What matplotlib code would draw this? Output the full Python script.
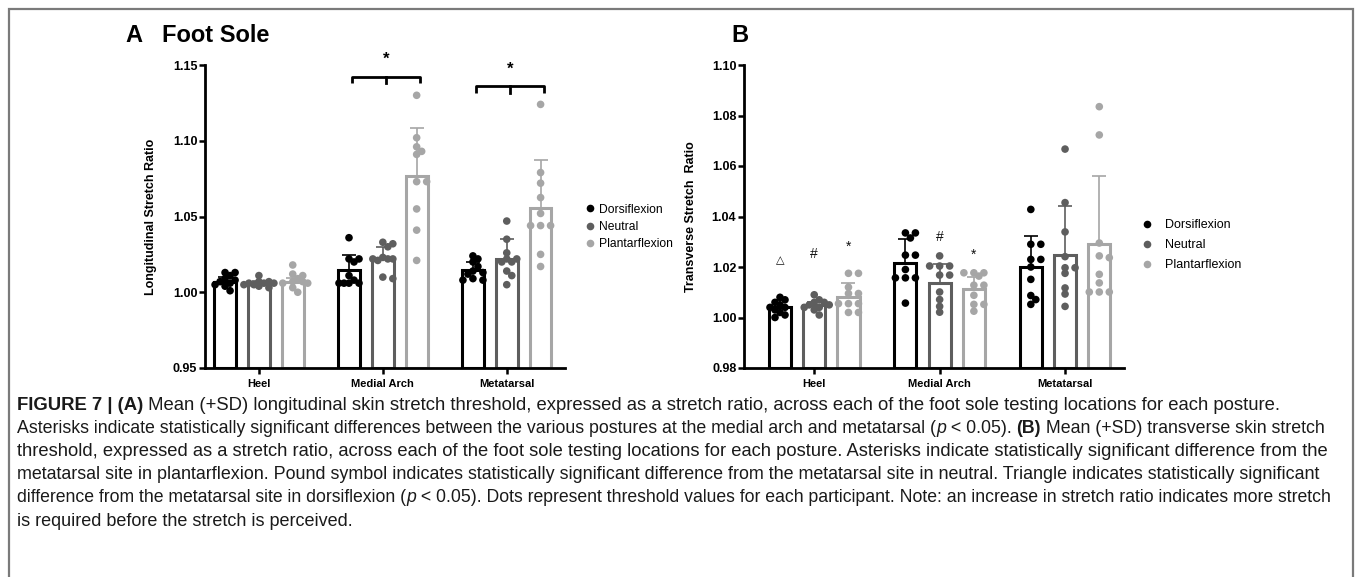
import numpy as np
import matplotlib.pyplot as plt
from matplotlib.lines import Line2D

plt.rcParams['font.family'] = ['Liberation Sans', 'DejaVu Sans']

W, H = 1355, 577

sites = ['Heel', 'Medial Arch', 'Metatarsal']
postures = ['Dorsiflexion', 'Neutral', 'Plantarflexion']
colors = ['#000000', '#5e5e5e', '#a6a6a6']

# Panel A: longitudinal stretch ratio (rows = postures, cols = sites)
long_mean = [[1.0066, 1.0147, 1.0147],
             [1.0060, 1.0224, 1.0222],
             [1.0068, 1.0770, 1.0553]]
long_sd = [[0.0034, 0.0101, 0.0053],
           [0.0015, 0.0076, 0.0128],
           [0.0029, 0.0316, 0.0317]]
long_heel = [[1.013, 1.013, 1.011, 1.009, 1.008, 1.007, 1.006, 1.005, 1.004, 1.001],
             [1.011, 1.007, 1.007, 1.006, 1.006, 1.006, 1.005, 1.005, 1.004, 1.003],
             [1.018, 1.012, 1.011, 1.009, 1.007, 1.007, 1.006, 1.006, 1.003, 1.000]]
long_arch = [[1.036, 1.022, 1.022, 1.020, 1.011, 1.008, 1.006, 1.006, 1.006, 1.006],
             [1.033, 1.032, 1.030, 1.023, 1.022, 1.022, 1.022, 1.021, 1.010, 1.009],
             [1.130, 1.102, 1.096, 1.093, 1.091, 1.073, 1.073, 1.055, 1.041, 1.021]]
long_meta = [[1.024, 1.022, 1.020, 1.017, 1.014, 1.013, 1.012, 1.009, 1.008, 1.008],
             [1.047, 1.035, 1.026, 1.022, 1.022, 1.020, 1.020, 1.014, 1.011, 1.005],
             [1.124, 1.079, 1.072, 1.0625, 1.052, 1.044, 1.044, 1.044, 1.025, 1.017]]

# Panel B: transverse stretch ratio
trans_mean = [[1.0040, 1.0217, 1.0200],
              [1.0050, 1.0136, 1.0249],
              [1.0081, 1.0111, 1.0291]]
trans_sd = [[0.0030, 0.0093, 0.0121],
            [0.0012, 0.0076, 0.0192],
            [0.0056, 0.0050, 0.0270]]
trans_heel = [[1.008, 1.007, 1.006, 1.005, 1.004, 1.004, 1.003, 1.002, 1.001, 1.000],
              [1.009, 1.007, 1.006, 1.006, 1.005, 1.005, 1.004, 1.004, 1.003, 1.001],
              [1.0175, 1.0175, 1.012, 1.0095, 1.0095, 1.0055, 1.0055, 1.0055, 1.002, 1.002]]
trans_arch = [[1.0335, 1.0335, 1.0315, 1.0247, 1.0247, 1.019, 1.0157, 1.0157, 1.0157, 1.0057],
              [1.0244, 1.0204, 1.0204, 1.0204, 1.0168, 1.0168, 1.0101, 1.0071, 1.0044, 1.0021],
              [1.0177, 1.0177, 1.0177, 1.0164, 1.0128, 1.0128, 1.0088, 1.0052, 1.0052, 1.0025]]
trans_meta = [[1.0428, 1.029, 1.029, 1.023, 1.023, 1.020, 1.0151, 1.0087, 1.0071, 1.0052],
              [1.0667, 1.0455, 1.0339, 1.0241, 1.0197, 1.0197, 1.0175, 1.0117, 1.0093, 1.0044],
              [1.0835, 1.0723, 1.0295, 1.0244, 1.0237, 1.0171, 1.0137, 1.0101, 1.0101, 1.0101]]

# significance marks for panel B: (site, posture, symbol, height)
trans_marks = [(0, 0, '\u25b3', 1.0225), (0, 1, '#', 1.0250), (0, 2, '*', 1.0280),
               (1, 1, '#', 1.0320), (1, 2, '*', 1.0250)]

caption = [
    [("FIGURE 7 | (A)", 'bold', 'normal'),
     (" Mean (+SD) longitudinal skin stretch threshold, expressed as a stretch ratio, across each of the foot sole testing locations for each posture.", 'normal', 'normal')],
    [("Asterisks indicate statistically significant differences between the various postures at the medial arch and metatarsal (", 'normal', 'normal'),
     ("p", 'normal', 'italic'), (" < 0.05). ", 'normal', 'normal'), ("(B)", 'bold', 'normal'),
     (" Mean (+SD) transverse skin stretch", 'normal', 'normal')],
    [("threshold, expressed as a stretch ratio, across each of the foot sole testing locations for each posture. Asterisks indicate statistically significant difference from the", 'normal', 'normal')],
    [("metatarsal site in plantarflexion. Pound symbol indicates statistically significant difference from the metatarsal site in neutral. Triangle indicates statistically significant", 'normal', 'normal')],
    [("difference from the metatarsal site in dorsiflexion (", 'normal', 'normal'), ("p", 'normal', 'italic'),
     (" < 0.05). Dots represent threshold values for each participant. Note: an increase in stretch ratio indicates more stretch", 'normal', 'normal')],
    [("is required before the stretch is perceived.", 'normal', 'normal')],
]
caption_ends = [1290, 1335, 1335, 1322, 1335, None]

offset = 0.273
width = 0.176


def swarm(ax, xc, vals, step=5.0, mind=5.5, kmax=3):
    # compact beeswarm in pixel space, dots may overlap a little
    tr = ax.transData
    px_per_x = tr.transform((1, 0))[0] - tr.transform((0, 0))[0]
    placed = []
    xs = []
    for v in vals:
        y = tr.transform((xc, v))[1]
        best, bestgap = 0.0, -1
        for k in [0, 1, -1, 2, -2, 3, -3][:2 * kmax + 1]:
            dx = k * step
            gap = min([np.hypot(dx - px, y - py) for px, py in placed] + [99])
            if gap >= mind:
                best = dx
                break
            if gap > bestgap:
                best, bestgap = dx, gap
        placed.append((best, y))
        xs.append(xc + best / px_per_x)
    return xs


def panel(ax, means, sds, dots, ylo, yhi, yticks, xlim, ylabel):
    ax.set_xlim(*xlim)
    ax.set_ylim(ylo, yhi)
    x = np.arange(len(sites))
    for j in range(3):
        xp = x + (j - 1) * offset
        m = np.array(means[j])
        ax.bar(xp, m - ylo, bottom=ylo, width=width, facecolor='white',
               edgecolor=colors[j], linewidth=2.2, zorder=2)
        ax.errorbar(xp, m, yerr=[np.zeros(3), sds[j]], fmt='none', ecolor=colors[j],
                    elinewidth=1.2, capsize=4.8, capthick=1.2, zorder=3)
        for i in range(3):
            xs = swarm(ax, xp[i], dots[i][j])
            ax.scatter(xs, dots[i][j], s=30, color=colors[j], edgecolor='none',
                       zorder=4, clip_on=False)
    ax.set_xticks(x)
    ax.set_xticklabels(sites, fontweight='bold', fontsize=8)
    ax.set_yticks(yticks)
    ax.set_yticklabels(['%.2f' % t for t in yticks], fontweight='bold', fontsize=9)
    for s in ['top', 'right']:
        ax.spines[s].set_visible(False)
    for s in ['left', 'bottom']:
        ax.spines[s].set_linewidth(2)
    ax.tick_params(width=1.8, length=4, pad=1.5)
    ax.tick_params(axis='x', pad=4)
    ax.set_ylabel(ylabel, fontweight='bold', fontsize=9)


fig = plt.figure(figsize=(W / 100, H / 100), dpi=100)

axA = fig.add_axes([205 / W, 1 - 368 / H, 360 / W, 303 / H])
panel(axA, long_mean, long_sd, [long_heel, long_arch, long_meta], 0.95, 1.15,
      [0.95, 1.00, 1.05, 1.10, 1.15], (-0.435, 2.47), 'Longitudinal Stretch Ratio')
axA.yaxis.set_label_coords(-0.133, 0.5)

axB = fig.add_axes([744 / W, 1 - 368 / H, 380 / W, 303 / H])
panel(axB, trans_mean, trans_sd, [trans_heel, trans_arch, trans_meta], 0.98, 1.10,
      [0.98, 1.00, 1.02, 1.04, 1.06, 1.08, 1.10], (-0.56, 2.47), 'Transverse Stretch  Ratio')
axB.yaxis.set_label_coords(-0.125, 0.5)

# significance brackets on panel A
for site, ybar, ytick, ystar in [(1, 1.1419, 1.1380, 1.1535), (2, 1.1360, 1.1316, 1.1475)]:
    xl, xm, xr = site - offset + 0.025, site + 0.025, site + offset + 0.025
    axA.plot([xl, xl, xr, xr], [ytick, ybar, ybar, ytick], color='black', lw=2,
             clip_on=False, solid_capstyle='butt')
    axA.plot([xm, xm], [ybar, ytick], color='black', lw=2, clip_on=False)
    axA.text(xm, ystar, '*', ha='center', va='center', fontsize=12, fontweight='bold')

for site, post, sym, h in trans_marks:
    axB.text(site + (post - 1) * offset, h, sym, ha='center', va='center',
             fontsize=10 if sym != '\u25b3' else 8, color='#111111')

# legends
handles = [Line2D([], [], marker='o', linestyle='none', markersize=5.5,
                  markerfacecolor=c, markeredgecolor='none') for c in colors]
axA.legend(handles, postures, loc='center left', bbox_to_anchor=(585 / W, 1 - 227 / H),
           bbox_transform=fig.transFigure, frameon=False, fontsize=8.7,
           handlelength=0.8, handletextpad=0.4, labelspacing=0.45, borderpad=0, borderaxespad=0)
axB.legend(handles, postures, loc='center left', bbox_to_anchor=(1142 / W, 1 - 245 / H),
           bbox_transform=fig.transFigure, frameon=False, fontsize=9,
           handlelength=0.8, handletextpad=1.0, labelspacing=0.65, borderpad=0, borderaxespad=0)

# panel labels
fig.text(125 / W, 1 - 36 / H, 'A', fontsize=17, fontweight='bold', va='center')
fig.text(162 / W, 1 - 36 / H, 'Foot Sole', fontsize=17, fontweight='bold', va='center')
fig.text(731 / W, 1 - 36 / H, 'B', fontsize=17, fontweight='bold', va='center')

# caption with mixed styles; each line sized to end where the original line ends
renderer = fig.canvas.get_renderer()
y0, dy, x0 = 405, 23.2, 17
sizes = []
for n, runs in enumerate(caption):
    target = caption_ends[n]
    if target is None:
        size = float(np.mean(sizes))
    else:
        probe_w = 0
        for txt, wt, st in runs:
            p = fig.text(0, 0, txt, fontsize=10, fontweight=wt, fontstyle=st)
            probe_w += p.get_window_extent(renderer).width
            p.remove()
        size = 10 * (target - x0) / probe_w
        sizes.append(size)
    xpix = x0
    for txt, wt, st in runs:
        t = fig.text(xpix / W, 1 - (y0 + n * dy) / H, txt, fontsize=size, fontweight=wt,
                     fontstyle=st, va='center', color='#1a1a1a')
        xpix += t.get_window_extent(renderer).width

# outer frame
fig.add_artist(plt.Rectangle((9 / W, -0.05), (1353 - 9) / W, 1.05 - 9 / H,
                             transform=fig.transFigure, fill=False,
                             edgecolor='#7a7a7a', linewidth=1.6))

fig.savefig('out.png', dpi=100)
